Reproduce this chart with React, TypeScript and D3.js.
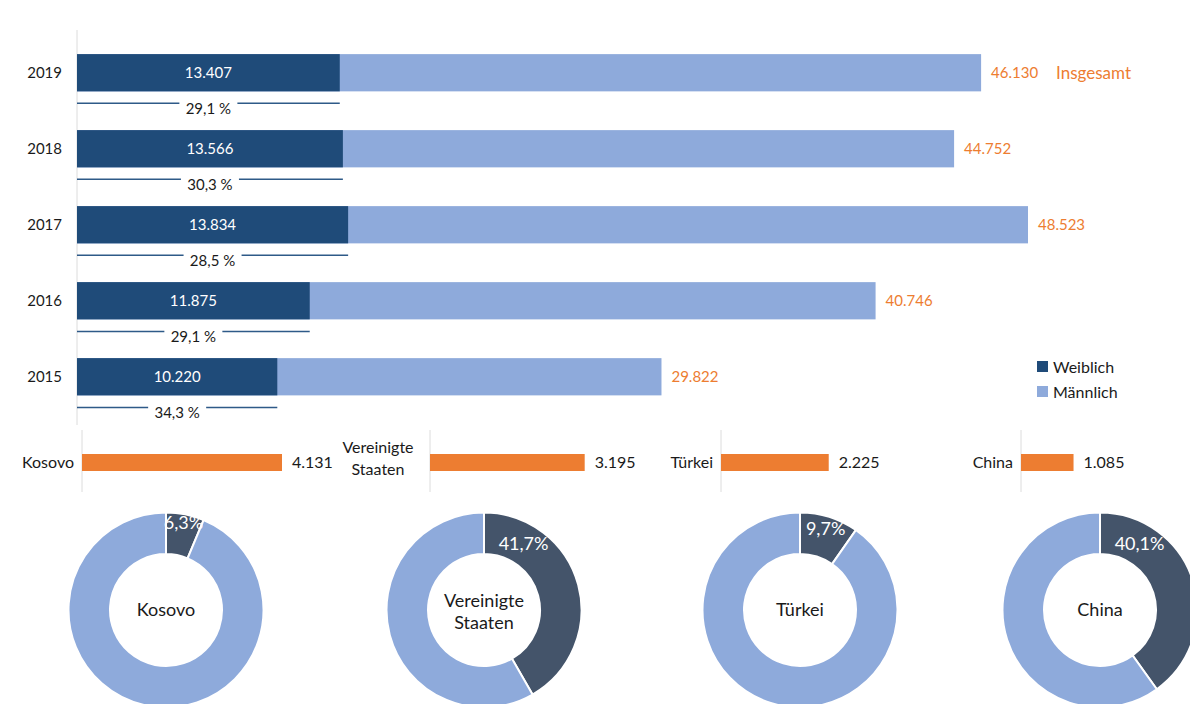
import React from "react";
import * as d3 from "d3";

const years = ["2019", "2018", "2017", "2016", "2015"];
const weiblich = [13407, 13566, 13834, 11875, 10220];
const insgesamt = [46130, 44752, 48523, 40746, 29822];

const countries = ["Kosovo", "Vereinigte Staaten", "Türkei", "China"];
const countryTotals = [4131, 3195, 2225, 1085];
const femaleShare = [6.3, 41.7, 9.7, 40.1];

const DARK = "#1f4b79";
const LIGHT = "#8eaadb";
const SLATE = "#44546a";
const ORANGE = "#ed7d31";
const TEXT = "#1a1a1a";
const FONT = "Lato, 'Open Sans', sans-serif";

// layout of the lower panels
const panelAxisX = [82, 430, 721, 1021];
const donutX = [166, 484, 800, 1100];

const fmt = (v: number) => d3.format(",")(v).replace(/,/g, ".");
const pct = (v: number) => d3.format(".1f")(v).replace(".", ",");

const App: React.FC = () => {
  const x = d3.scaleLinear().domain([0, 48523]).range([77, 1028]);
  const y = d3
    .scaleBand<string>()
    .domain(years)
    .range([35.5, 414])
    .paddingInner(0.51)
    .paddingOuter(0.245);
  const bw = y.bandwidth();

  const cx = d3.scaleLinear().domain([0, 4131]).range([0, 200]);

  const pie = d3.pie<number>().sort(null).value((d) => d);
  const arc = d3.arc<d3.PieArcDatum<number>>().innerRadius(56).outerRadius(97.5);

  return (
    <svg
      width={1190}
      height={704}
      style={{ position: "absolute", left: 0, top: 0, display: "block" }}
      fontFamily={FONT}
    >
      <rect width={1190} height={704} fill="#fff" />

      {/* main bars */}
      <line x1={77} x2={77} y1={30} y2={425} stroke="#dcdcdc" />
      {years.map((yr, i) => {
        const y0 = y(yr)!;
        const share = (weiblich[i] / insgesamt[i]) * 100;
        const lineY = y0 + bw + 12;
        const xm = (x(0) + x(weiblich[i])) / 2;
        return (
          <g key={yr}>
            <rect x={x(0)} y={y0} width={x(insgesamt[i]) - x(0)} height={bw} fill={LIGHT} />
            <rect x={x(0)} y={y0} width={x(weiblich[i]) - x(0)} height={bw} fill={DARK} />
            <text x={62} y={y0 + bw / 2} dy="0.35em" textAnchor="end" fontSize={15} fill={TEXT}>
              {yr}
            </text>
            <text x={xm} y={y0 + bw / 2} dy="0.35em" textAnchor="middle" fontSize={15} fill="#fff">
              {fmt(weiblich[i])}
            </text>
            <text x={x(insgesamt[i]) + 10} y={y0 + bw / 2} dy="0.35em" fontSize={15} fill={ORANGE}>
              {fmt(insgesamt[i])}
            </text>
            {i === 0 && (
              <text x={x(insgesamt[i]) + 75} y={y0 + bw / 2} dy="0.35em" fontSize={17} fill={ORANGE}>
                Insgesamt
              </text>
            )}
            <line x1={x(0)} x2={x(weiblich[i])} y1={lineY} y2={lineY} stroke="#2e5a88" strokeWidth={1.5} />
            <rect x={xm - 29} y={lineY - 4} width={58} height={16} fill="#fff" />
            <text x={xm} y={lineY + 5} dy="0.35em" textAnchor="middle" fontSize={15} fill={TEXT}>
              {pct(share)} %
            </text>
          </g>
        );
      })}

      {/* legend */}
      <rect x={1037} y={361} width={11} height={11} fill={DARK} />
      <text x={1053} y={367} dy="0.35em" fontSize={16} fill={TEXT}>Weiblich</text>
      <rect x={1037} y={386} width={11} height={11} fill={LIGHT} />
      <text x={1053} y={392} dy="0.35em" fontSize={16} fill={TEXT}>Männlich</text>

      {/* country bars */}
      {countries.map((c, i) => {
        const ax = panelAxisX[i];
        const by = 454;
        const bh = 17;
        const words = c.split(" ");
        return (
          <g key={c}>
            <line x1={ax} x2={ax} y1={430} y2={492} stroke="#dcdcdc" />
            <rect x={ax} y={by} width={cx(countryTotals[i])} height={bh} fill={ORANGE} />
            <text x={ax + cx(countryTotals[i]) + 10} y={by + bh / 2} dy="0.35em" fontSize={16} fill={TEXT}>
              {fmt(countryTotals[i])}
            </text>
            {words.length === 1 ? (
              <text x={ax - 8} y={by + bh / 2} dy="0.35em" textAnchor="end" fontSize={16} fill={TEXT}>
                {c}
              </text>
            ) : (
              <text x={ax - 52} y={by - 1} textAnchor="middle" fontSize={16} fill={TEXT}>
                {words.map((w, k) => (
                  <tspan key={w} x={ax - 52} dy={k === 0 ? 0 : 22}>{w}</tspan>
                ))}
              </text>
            )}
          </g>
        );
      })}

      {/* donuts */}
      {countries.map((c, i) => {
        const arcs = pie([femaleShare[i], 100 - femaleShare[i]]);
        const half = (arcs[0].endAngle - arcs[0].startAngle) / 2;
        const a = Math.min(half, 0.54);
        const t = Math.max(0, Math.min(1, (0.55 - half) / 0.35));
        const r = 77 + 12 * t;
        const words = c.split(" ");
        return (
          <g key={c} transform={`translate(${donutX[i]},610)`}>
            {arcs.map((d, k) => (
              <path key={k} d={arc(d)!} fill={k === 0 ? SLATE : LIGHT} stroke="#fff" strokeWidth={2} />
            ))}
            <text
              x={r * Math.sin(a)}
              y={-r * Math.cos(a)}
              dy="0.35em"
              textAnchor="middle"
              fontSize={18}
              fill="#fff"
            >
              {pct(femaleShare[i])}%
            </text>
            {words.length === 1 ? (
              <text y={0} dy="0.35em" textAnchor="middle" fontSize={18} fill={TEXT}>{c}</text>
            ) : (
              <text textAnchor="middle" fontSize={18} fill={TEXT}>
                {words.map((w, k) => (
                  <tspan key={w} x={0} y={k === 0 ? -3 : 19}>{w}</tspan>
                ))}
              </text>
            )}
          </g>
        );
      })}
    </svg>
  );
};

export default App;
